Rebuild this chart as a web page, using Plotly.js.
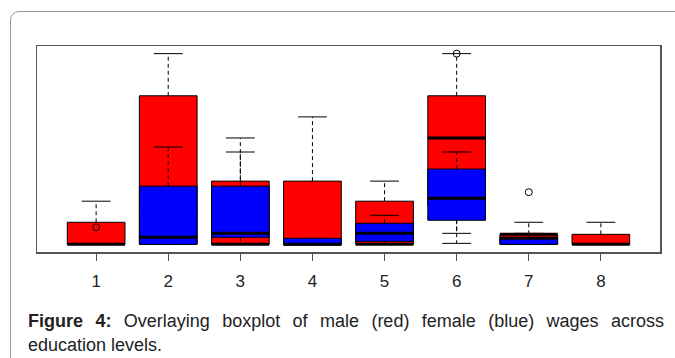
<!DOCTYPE html>
<html><head><meta charset="utf-8">
<script src="https://cdn.plot.ly/plotly-3.0.1.min.js"></script>
<style>
html,body{margin:0;padding:0;width:675px;height:358px;overflow:hidden;background:#fff;font-family:"Liberation Sans",Arial,sans-serif;}
#card{position:absolute;left:10px;top:11px;width:720px;height:420px;border:1px solid #9a9a9a;border-radius:9px;box-sizing:border-box;z-index:0;}
#chart{position:absolute;left:0;top:0;width:675px;height:358px;z-index:1;}
.cap{position:absolute;left:28px;width:636px;font-size:18px;line-height:24px;color:#222;z-index:2;}
#cap1{top:309px;text-align:justify;text-align-last:justify;}
#cap2{top:333px;}
</style></head>
<body>
<div id="card"></div>
<div id="chart"></div>
<div class="cap" id="cap1"><b>Figure 4:</b> Overlaying boxplot of male (red) female (blue) wages across</div>
<div class="cap" id="cap2">education levels.</div>
<script>
var categories = ['1','2','3','4','5','6','7','8'];
// male (red) box statistics
var maleQ1     = [0, 0, 0, 0, 0, 7.8, 0, 0];
var maleMedian = [0, 6, 0, 0, 0, 21.2, 2, 0];
var maleQ3     = [4.4, 29.6, 12.6, 12.6, 8.6, 29.6, 2, 2];
var maleLower  = [0, 0, 0, 0, 0, 0.2, 0, 0];
var maleUpper  = [8.6, 38, 21.2, 25.4, 12.6, 38, 4.4, 4.4];
var maleOutliers = [[], [], [], [], [], [38], [10.4], []];
// female (blue) box statistics
var femaleQ1     = [null, 0, 1.4, 0, 0.6, 4.8, 0, null];
var femaleMedian = [null, 1.4, 2.2, 0, 2.2, 9.2, 1.2, null];
var femaleQ3     = [null, 11.6, 11.6, 1.2, 4.2, 15, 1.4, null];
var femaleLower  = [null, 0, 0, 0, 0, 2.2, 0, null];
var femaleUpper  = [null, 19.4, 18.4, 1.2, 5.8, 18.4, 2.2, null];
var femaleOutliers = [[3.4], [], [], [], [], [], [], []];

var BOX_HALF = 0.4, CAP_HALF = 0.2;

function seriesTraces(color, q1, med, q3, lo, hi, outl) {
  var bx=[],by=[],mx=[],my=[],wx=[],wy=[],cx=[],cy=[],ox=[],oy=[];
  for (var i = 0; i < categories.length; i++) {
    var x = i + 1;
    (outl[i] || []).forEach(function(v){ ox.push(x); oy.push(v); });
    if (q1[i] === null) continue;
    if (hi[i] > q3[i]) { wx.push(x, x, null); wy.push(q3[i], hi[i], null); }
    if (lo[i] < q1[i]) { wx.push(x, x, null); wy.push(q1[i], lo[i], null); }
    cx.push(x-CAP_HALF, x+CAP_HALF, null); cy.push(hi[i], hi[i], null);
    cx.push(x-CAP_HALF, x+CAP_HALF, null); cy.push(lo[i], lo[i], null);
    bx.push(x-BOX_HALF, x+BOX_HALF, x+BOX_HALF, x-BOX_HALF, x-BOX_HALF, null);
    by.push(q1[i], q1[i], q3[i], q3[i], q1[i], null);
    mx.push(x-BOX_HALF, x+BOX_HALF, null); my.push(med[i], med[i], null);
  }
  return [
    {type:'scatter', mode:'lines', x:wx, y:wy, line:{color:'#000', width:1, dash:'4px,3px'}, hoverinfo:'skip'},
    {type:'scatter', mode:'lines', x:cx, y:cy, line:{color:'#000', width:1}, hoverinfo:'skip'},
    {type:'scatter', mode:'lines', x:bx, y:by, fill:'toself', fillcolor:color, line:{color:'#000', width:1}, hoverinfo:'skip'},
    {type:'scatter', mode:'lines', x:mx, y:my, line:{color:'#000', width:3}, hoverinfo:'skip'},
    {type:'scatter', mode:'markers', x:ox, y:oy, marker:{symbol:'circle-open', size:7, color:'#000', line:{width:1}}, hoverinfo:'skip'}
  ];
}

var data = seriesTraces('#ff0000', maleQ1, maleMedian, maleQ3, maleLower, maleUpper, maleOutliers)
  .concat(seriesTraces('#0000ff', femaleQ1, femaleMedian, femaleQ3, femaleLower, femaleUpper, femaleOutliers));

var layout = {
  width: 675, height: 358,
  margin: {l:37, r:15, t:46, b:106},
  paper_bgcolor: 'rgba(0,0,0,0)', plot_bgcolor: '#fff',
  showlegend: false,
  xaxis: {
    range: [0.18, 8.82],
    tickmode: 'array',
    tickvals: categories.map(function(c, i){ return i + 1; }),
    ticktext: categories,
    ticks: 'outside', ticklen: 7, tickcolor: '#555', tickwidth: 1.2,
    showline: true, mirror: true, linecolor: '#555', linewidth: 1.5,
    showgrid: false, zeroline: false,
    ticklabelstandoff: 6,
    tickfont: {family: 'Liberation Sans, Arial, sans-serif', size: 17, color: '#222'}
  },
  yaxis: {
    range: [-1.52, 39.52],
    showticklabels: false, ticks: '',
    showline: true, mirror: true, linecolor: '#555', linewidth: 1.5,
    showgrid: false, zeroline: false
  }
};
Plotly.newPlot('chart', data, layout, {staticPlot: true, displayModeBar: false});
</script>
</body></html>
